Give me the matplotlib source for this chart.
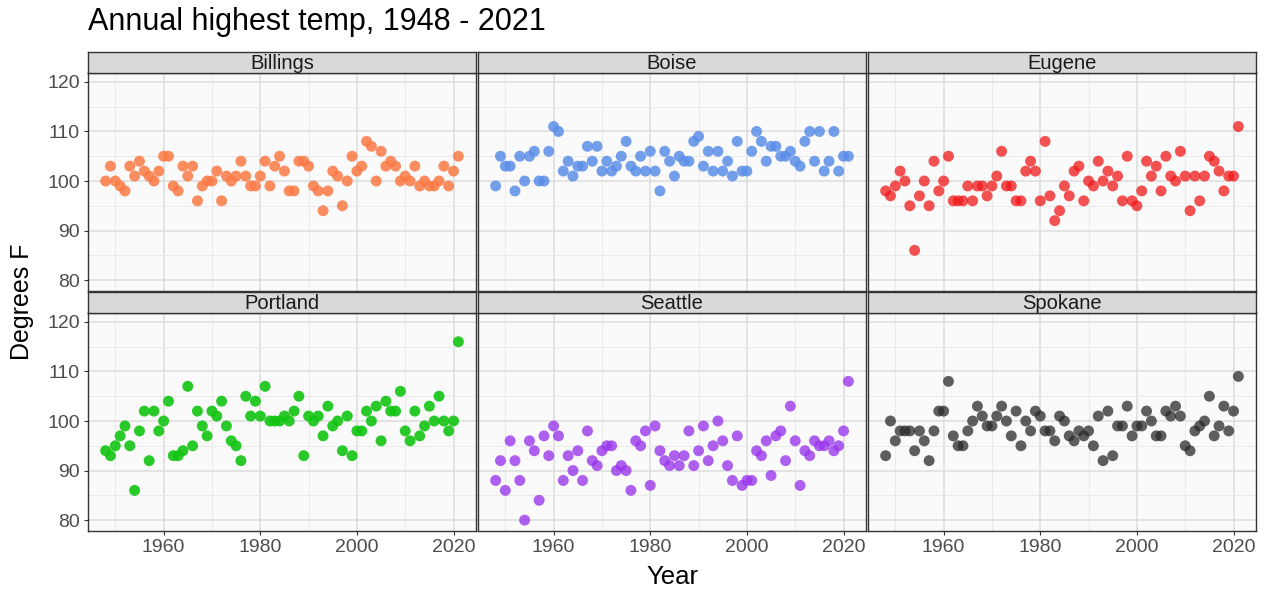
import numpy as np
import matplotlib
matplotlib.use('Agg')
import matplotlib.pyplot as plt
from matplotlib.ticker import MultipleLocator

plt.rcParams['font.family'] = ['Liberation Sans', 'DejaVu Sans']

years = list(range(1948, 2022))

billings = [100, 103, 100, 99, 98, 103, 101, 104, 102, 101, 100, 102,
            105, 105, 99, 98, 103, 101, 103, 96, 99, 100,
            100, 102, 96, 101, 100, 101, 104, 101, 99, 99,
            101, 104, 99, 103, 105, 102, 98, 98, 104, 104,
            103, 99, 98, 94, 98, 102, 101, 95, 100, 105,
            102, 103, 108, 107, 100, 106, 103, 104, 103, 100,
            101, 100, 103, 99, 100, 99, 99, 100, 103, 99,
            102, 105]
boise = [99, 105, 103, 103, 98, 105, 100, 105, 106, 100, 100, 106,
         111, 110, 102, 104, 101, 103, 103, 107, 104, 107,
         102, 104, 102, 103, 105, 108, 103, 102, 105, 102,
         106, 102, 98, 106, 104, 101, 105, 104, 104, 108,
         109, 103, 106, 102, 106, 102, 104, 101, 108, 102,
         102, 106, 110, 108, 104, 107, 107, 105, 105, 106,
         104, 103, 108, 110, 104, 110, 102, 104, 110, 102,
         105, 105]
eugene = [98, 97, 99, 102, 100, 95, 86, 97, 100, 95, 104, 98,
          100, 105, 96, 96, 96, 99, 96, 99, 99, 97,
          99, 101, 106, 99, 99, 96, 96, 102, 104, 102,
          96, 108, 97, 92, 94, 99, 97, 102, 103, 96,
          100, 99, 104, 100, 102, 99, 101, 96, 105, 96,
          95, 98, 104, 101, 103, 98, 105, 101, 100, 106,
          101, 94, 101, 96, 101, 105, 104, 102, 98, 101,
          101, 111]
portland = [94, 93, 95, 97, 99, 95, 86, 98, 102, 92, 102, 98,
            100, 104, 93, 93, 94, 107, 95, 102, 99, 97,
            102, 101, 104, 99, 96, 95, 92, 105, 101, 104,
            101, 107, 100, 100, 100, 101, 100, 102, 105, 93,
            101, 100, 101, 97, 103, 99, 100, 94, 101, 93,
            98, 98, 102, 100, 103, 96, 104, 102, 102, 106,
            98, 96, 102, 97, 99, 103, 100, 105, 100, 98,
            100, 116]
seattle = [88, 92, 86, 96, 92, 88, 80, 96, 94, 84, 97, 93,
           99, 97, 88, 93, 90, 94, 88, 98, 92, 91,
           94, 95, 95, 90, 91, 90, 86, 96, 95, 98,
           87, 99, 94, 92, 91, 93, 91, 93, 98, 91,
           94, 99, 92, 95, 100, 96, 91, 88, 97, 87,
           88, 88, 94, 93, 96, 89, 97, 98, 92, 103,
           96, 87, 94, 93, 96, 95, 95, 96, 94, 95,
           98, 108]
spokane = [93, 100, 96, 98, 98, 98, 94, 98, 96, 92, 98, 102,
           102, 108, 97, 95, 95, 98, 100, 103, 101, 99,
           99, 101, 103, 100, 97, 102, 95, 100, 98, 102,
           101, 98, 98, 96, 101, 100, 97, 96, 98, 97,
           98, 95, 101, 92, 102, 93, 99, 99, 103, 97,
           99, 99, 102, 100, 97, 97, 102, 101, 103, 101,
           95, 94, 98, 99, 100, 105, 97, 99, 103, 98,
           102, 109]

cities = ['Billings', 'Boise', 'Eugene', 'Portland', 'Seattle', 'Spokane']
series = [billings, boise, eugene, portland, seattle, spokane]
colors = ['#FA7A45', '#5A8EE8', '#F01818', '#12C412', '#9A38EC', '#2A2A2A']
alphas = [0.85, 0.85, 0.75, 0.9, 0.8, 0.75]

W, H = 1268, 590
fig = plt.figure(figsize=(W / 100, H / 100), dpi=100)

lefts = [88, 478, 868]
pw = 388
tops = [73, 313]
ph = 218
sh = 21

for i in range(6):
    r, c = divmod(i, 3)
    x0 = lefts[c]
    y0 = tops[r]
    ax = fig.add_axes([x0 / W, 1 - (y0 + ph) / H, pw / W, ph / H])
    ax.set_facecolor('#FAFAFA')
    ax.scatter(years, series[i], s=62, color=colors[i], alpha=alphas[i],
               edgecolors='none', zorder=3)
    ax.set_xlim(1944.35, 2024.65)
    ax.set_ylim(77.8, 121.8)
    ax.xaxis.set_minor_locator(MultipleLocator(10))
    ax.yaxis.set_major_locator(MultipleLocator(10))
    ax.yaxis.set_minor_locator(MultipleLocator(5))
    ax.set_xticks([1960, 1980, 2000, 2020])
    ax.grid(which='major', color='#DCDCDC', linewidth=1.1, zorder=0)
    ax.grid(which='minor', color='#EAEAEA', linewidth=0.7, zorder=0)
    ax.set_axisbelow(True)
    for sp in ax.spines.values():
        sp.set_color('#333333')
        sp.set_linewidth(1.0)
    ax.tick_params(which='minor', length=0)
    ax.tick_params(which='major', length=3, color='#333333', labelsize=14,
                   labelcolor='#4D4D4D', pad=3)
    if c != 0:
        ax.tick_params(axis='y', labelleft=False, length=0)
    if r == 0:
        ax.tick_params(axis='x', labelbottom=False, length=0)

    st = fig.add_axes([x0 / W, 1 - y0 / H, pw / W, sh / H])
    st.set_facecolor('#D9D9D9')
    st.set_xticks([])
    st.set_yticks([])
    for sp in st.spines.values():
        sp.set_color('#333333')
        sp.set_linewidth(1.0)
    st.text(0.5, 0.45, cities[i], ha='center', va='center', fontsize=14.5,
            color='#1A1A1A', transform=st.transAxes)

fig.text(88 / W, 1 - 22 / H, 'Annual highest temp, 1948 - 2021', fontsize=22,
         ha='left', va='center', color='black')
fig.text(22 / W, 1 - 302 / H, 'Degrees F', fontsize=18, rotation=90,
         ha='center', va='center')
fig.text((88 + 1256) / 2 / W, 1 - 577 / H, 'Year', fontsize=18.5,
         ha='center', va='center')

plt.savefig('out.png', dpi=100)
